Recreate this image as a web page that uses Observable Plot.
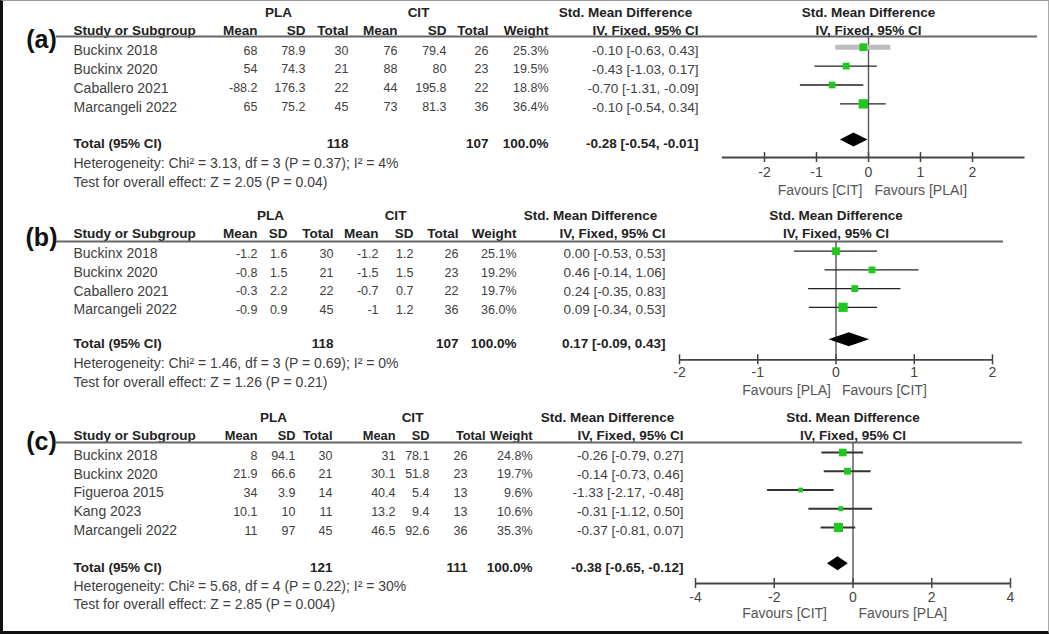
<!DOCTYPE html>
<html><head><meta charset="utf-8">
<script src="https://cdn.jsdelivr.net/npm/d3@7"></script>
<script src="https://cdn.jsdelivr.net/npm/@observablehq/plot@0.6"></script>
<style>
body{margin:0;background:#fff;}
#page{position:relative;width:1049px;height:634px;overflow:hidden;background:#fff;}
#page svg{position:absolute;left:0;}
#border{position:absolute;left:0;top:0;width:1049px;height:634px;box-sizing:border-box;border-left:3px solid #111;border-bottom:3px solid #111;border-top:1px solid #999;border-right:1px solid #aaa;pointer-events:none;z-index:5;}
</style></head><body><div id="page"><div id="border"></div></div>
<script>
// ---------- Panel (a) data ----------
const studiesA = ["Buckinx 2018", "Buckinx 2020", "Caballero 2021", "Marcangeli 2022"];
const plaMeanA = [68, 54, -88.2, 65];
const plaSdA = [78.9, 74.3, 176.3, 75.2];
const plaNA = [30, 21, 22, 45];
const citMeanA = [76, 88, 44, 73];
const citSdA = [79.4, 80, 195.8, 81.3];
const citNA = [26, 23, 22, 36];
const weightA = [25.3, 19.5, 18.8, 36.4];
const smdA = [-0.10, -0.43, -0.70, -0.10];
const loA = [-0.63, -1.03, -1.31, -0.54];
const hiA = [0.43, 0.17, -0.09, 0.34];
const totalsA = [118, 107, 100.0];
const totalSmdA = [-0.28, -0.54, -0.01];
const hetA = [3.13, 3, 0.37, 4];
const zTestA = [2.05, 0.04];
const ticksA = [-2, -1, 0, 1, 2];
const favoursA = ["Favours [CIT]", "Favours [PLAI]"];

// ---------- Panel (b) data ----------
const studiesB = ["Buckinx 2018", "Buckinx 2020", "Caballero 2021", "Marcangeli 2022"];
const plaMeanB = [-1.2, -0.8, -0.3, -0.9];
const plaSdB = [1.6, 1.5, 2.2, 0.9];
const plaNB = [30, 21, 22, 45];
const citMeanB = [-1.2, -1.5, -0.7, -1];
const citSdB = [1.2, 1.5, 0.7, 1.2];
const citNB = [26, 23, 22, 36];
const weightB = [25.1, 19.2, 19.7, 36.0];
const smdB = [0.00, 0.46, 0.24, 0.09];
const loB = [-0.53, -0.14, -0.35, -0.34];
const hiB = [0.53, 1.06, 0.83, 0.53];
const totalsB = [118, 107, 100.0];
const totalSmdB = [0.17, -0.09, 0.43];
const hetB = [1.46, 3, 0.69, 0];
const zTestB = [1.26, 0.21];
const ticksB = [-2, -1, 0, 1, 2];
const favoursB = ["Favours [PLA]", "Favours [CIT]"];

// ---------- Panel (c) data ----------
const studiesC = ["Buckinx 2018", "Buckinx 2020", "Figueroa 2015", "Kang 2023", "Marcangeli 2022"];
const plaMeanC = [8, 21.9, 34, 10.1, 11];
const plaSdC = [94.1, 66.6, 3.9, 10, 97];
const plaNC = [30, 21, 14, 11, 45];
const citMeanC = [31, 30.1, 40.4, 13.2, 46.5];
const citSdC = [78.1, 51.8, 5.4, 9.4, 92.6];
const citNC = [26, 23, 13, 13, 36];
const weightC = [24.8, 19.7, 9.6, 10.6, 35.3];
const smdC = [-0.26, -0.14, -1.33, -0.31, -0.37];
const loC = [-0.79, -0.73, -2.17, -1.12, -0.81];
const hiC = [0.27, 0.46, -0.48, 0.50, 0.07];
const totalsC = [121, 111, 100.0];
const totalSmdC = [-0.38, -0.65, -0.12];
const hetC = [5.68, 4, 0.22, 30];
const zTestC = [2.85, 0.004];
const ticksC = [-4, -2, 0, 2, 4];
const favoursC = ["Favours [CIT]", "Favours [PLA]"];

// ---------- layout (page pixels) ----------
const ML = 56;
const LAYOUT = {
  a: {top: 0, height: 200, label: "(a)", labelY: 39, groupY: 12, headY: 30, lineY: 36, lineEnd: 1037,
      row0: 50, step: 18.9, totalY: 143.5, hetY: 163, testY: 182,
      cols: {study: 73, plaMean: 257, plaSd: 305, plaN: 348, citMean: 397, citSd: 446, citN: 488, citNHead: 488, weight: 548, ci: 698},
      plaC: 278, citC: 418, smdC: 625, headFS: 13.5,
      xDomain: [-2, 2], xRange: [764, 972], axisExt: [-2.81, 3.01], axisY: 157, tickY: 172, favY: 190, favDx: [-6, 6],
      mDy: -3.3, dDy: -4, ciStroke: "#222", ciWidth: 1.4, greyRows: [0]},
  b: {top: 200, height: 200, label: "(b)", labelY: 237, groupY: 215, headY: 233.5, lineY: 241, lineEnd: 1003,
      row0: 253.3, step: 18.7, totalY: 343.3, hetY: 362.7, testY: 381.7,
      cols: {study: 73, plaMean: 257, plaSd: 287, plaN: 333, citMean: 378, citSd: 413, citN: 458, citNHead: 458, weight: 516, ci: 665},
      plaC: 270, citC: 395, smdC: 590, headFS: 13.5,
      xDomain: [-2, 2], xRange: [679, 992], axisExt: [-2, 2], axisY: 359.3, tickY: 372, favY: 390, favDx: [-5, 6],
      mDy: -2.6, dDy: -4, ciStroke: "#222", ciWidth: 1.2, greyRows: []},
  c: {top: 400, height: 234, label: "(c)", labelY: 441, groupY: 416.7, headY: 435, lineY: 442, lineEnd: 1022,
      row0: 455, step: 18.75, totalY: 566.7, hetY: 586, testY: 604,
      cols: {study: 73, plaMean: 257, plaSd: 295, plaN: 332, citMean: 395, citSd: 429, citN: 467, citNHead: 485, weight: 532, ci: 683},
      plaC: 273, citC: 412, smdC: 607, headFS: 12.8,
      xDomain: [-4, 4], xRange: [695, 1010], axisExt: [-4, 4], axisY: 583, tickY: 597, favY: 613, favDx: [-26, 5.5],
      mDy: -3, dDy: -3.5, ciStroke: "#333", ciWidth: 1.8, greyRows: []}
};

const FONT = "Liberation Sans, Arial, Helvetica, sans-serif";
const FS = 13.5;      // header / label text
const BODY_FS = 14;   // study names and footnotes
const NUM_FS = 12.5;  // numeric columns
const BODY = "#404040";
const BOLD = {fontWeight: "bold", fill: "#222"};

function buildPanel(key, d) {
  const L = LAYOUT[key];
  const g = v => v - L.top;
  const C = L.cols;
  const rows = d.studies.map((s, i) => ({
    i, study: s, plaMean: d.plaMean[i], plaSd: d.plaSd[i], plaN: d.plaN[i],
    citMean: d.citMean[i], citSd: d.citSd[i], citN: d.citN[i], weight: d.weight[i],
    smd: d.smd[i], lo: d.lo[i], hi: d.hi[i], y: g(L.row0 + i * L.step)
  }));
  const f2 = v => v.toFixed(2);
  const ciText = (m, lo, hi) => `${f2(m)} [${f2(lo)}, ${f2(hi)}]`;
  const col = (x, text, o = {}) => Plot.text(rows, {frameAnchor: "left", dx: x - ML, y: "y", text, textAnchor: "end", fontSize: NUM_FS, fill: BODY, ...o});
  const one = (str, x, y, o = {}) => Plot.text([str], {frameAnchor: "left", dx: x - ML, y: g(y), text: v => v, textAnchor: "end", fontSize: FS, fill: BODY, ...o});
  const HB = {...BOLD, fontSize: L.headFS};

  const [tm, tlo, thi] = d.totalSmd;
  const cy = g(L.totalY) + L.dDy;
  const diamond = [{x: tlo, h: 0}, {x: tm, h: 7}, {x: thi, h: 0}];
  const het = `Heterogeneity: Chi\u00B2 = ${d.het[0]}, df = ${d.het[1]} (P = ${d.het[2]}); I\u00B2 = ${d.het[3]}%`;
  const test = `Test for overall effect: Z = ${d.z[0]} (P = ${d.z[1]})`;
  const grey = rows.filter(r => L.greyRows.includes(r.i));
  const normal = rows.filter(r => !L.greyRows.includes(r.i));

  const marks = [
    one(L.label, 41, L.labelY, {textAnchor: "middle", fontSize: 25, fontWeight: "bold", fill: "#111"}),
    one("PLA", L.plaC, L.groupY, {textAnchor: "middle", ...BOLD}),
    one("CIT", L.citC, L.groupY, {textAnchor: "middle", ...BOLD}),
    one("Std. Mean Difference", L.smdC, L.groupY, {textAnchor: "middle", ...BOLD}),
    one("Study or Subgroup", C.study, L.headY, {textAnchor: "start", ...BOLD}),
    one("Mean", C.plaMean, L.headY, HB),
    one("SD", C.plaSd, L.headY, HB),
    one("Total", C.plaN, L.headY, HB),
    one("Mean", C.citMean, L.headY, HB),
    one("SD", C.citSd, L.headY, HB),
    one("Total", C.citNHead, L.headY, HB),
    one("Weight", C.weight, L.headY, HB),
    one("IV, Fixed, 95% CI", C.ci, L.headY, BOLD),
    Plot.ruleY([g(L.lineY)], {stroke: "#666", strokeWidth: 2}),
    col(C.study, "study", {textAnchor: "start", fontSize: BODY_FS}),
    col(C.plaMean, r => String(r.plaMean)),
    col(C.plaSd, r => String(r.plaSd)),
    col(C.plaN, r => String(r.plaN)),
    col(C.citMean, r => String(r.citMean)),
    col(C.citSd, r => String(r.citSd)),
    col(C.citN, r => String(r.citN)),
    col(C.weight, r => r.weight.toFixed(1) + "%"),
    col(C.ci, r => ciText(r.smd, r.lo, r.hi), {fontSize: FS}),
    one("Total (95% CI)", C.study, L.totalY, {textAnchor: "start", ...BOLD}),
    one(String(d.totals[0]), C.plaN, L.totalY, BOLD),
    one(String(d.totals[1]), C.citN, L.totalY, BOLD),
    one(d.totals[2].toFixed(1) + "%", C.weight, L.totalY, BOLD),
    one(ciText(tm, tlo, thi), C.ci, L.totalY, BOLD),
    one(het, C.study, L.hetY, {textAnchor: "start", fontSize: BODY_FS}),
    one(test, C.study, L.testY, {textAnchor: "start", fontSize: BODY_FS}),
    Plot.text(["Std. Mean Difference"], {x: 0, y: g(L.groupY), text: v => v, fontSize: FS, ...BOLD}),
    Plot.text(["IV, Fixed, 95% CI"], {x: 0, y: g(L.headY), text: v => v, fontSize: FS, ...BOLD}),
    Plot.ruleX([0], {y1: g(L.lineY), y2: g(L.axisY), stroke: "#555", strokeWidth: 1.4}),
    Plot.ruleY(grey, {x1: "lo", x2: "hi", y: r => r.y + L.mDy, stroke: "#bdbdbd", strokeWidth: 5}),
    Plot.ruleY(normal, {x1: "lo", x2: "hi", y: r => r.y + L.mDy, stroke: L.ciStroke, strokeWidth: L.ciWidth}),
    Plot.dot(rows, {x: "smd", y: r => r.y + L.mDy, r: "weight", symbol: "square", fill: "#1ec81e", stroke: null}),
    Plot.areaY(diamond, {x: "x", y1: p => cy - p.h, y2: p => cy + p.h, fill: "#000"}),
    Plot.ruleY([g(L.axisY)], {x1: L.axisExt[0], x2: L.axisExt[1], stroke: "#444", strokeWidth: 1.8}),
    Plot.ruleX(d.ticks, {y1: g(L.axisY) - 5, y2: g(L.axisY) + 5, stroke: "#444", strokeWidth: 1.5}),
    Plot.text(d.ticks, {x: v => v, y: g(L.tickY), text: v => String(v), fontSize: 14, fill: "#444"}),
    Plot.text([d.favours[0]], {x: 0, dx: L.favDx[0], y: g(L.favY), text: v => v, textAnchor: "end", fontSize: 14, fill: "#555"}),
    Plot.text([d.favours[1]], {x: 0, dx: L.favDx[1], y: g(L.favY), text: v => v, textAnchor: "start", fontSize: 14, fill: "#555"})
  ];

  const svg = Plot.plot({
    width: 1049, height: L.height,
    marginLeft: ML, marginRight: 1049 - L.lineEnd, marginTop: 0, marginBottom: 0,
    x: {domain: L.xDomain, range: L.xRange, axis: null},
    y: {type: "identity", axis: null},
    r: {type: "sqrt", domain: [0, 40], range: [0, 5.5]},
    style: {fontFamily: FONT, background: "transparent", overflow: "visible"},
    marks
  });
  svg.style.position = "absolute";
  svg.style.top = L.top + "px";
  svg.style.left = "0px";
  document.getElementById("page").appendChild(svg);
}

buildPanel("a", {studies: studiesA, plaMean: plaMeanA, plaSd: plaSdA, plaN: plaNA, citMean: citMeanA, citSd: citSdA, citN: citNA,
  weight: weightA, smd: smdA, lo: loA, hi: hiA, totals: totalsA, totalSmd: totalSmdA, het: hetA, z: zTestA, ticks: ticksA, favours: favoursA});
buildPanel("b", {studies: studiesB, plaMean: plaMeanB, plaSd: plaSdB, plaN: plaNB, citMean: citMeanB, citSd: citSdB, citN: citNB,
  weight: weightB, smd: smdB, lo: loB, hi: hiB, totals: totalsB, totalSmd: totalSmdB, het: hetB, z: zTestB, ticks: ticksB, favours: favoursB});
buildPanel("c", {studies: studiesC, plaMean: plaMeanC, plaSd: plaSdC, plaN: plaNC, citMean: citMeanC, citSd: citSdC, citN: citNC,
  weight: weightC, smd: smdC, lo: loC, hi: hiC, totals: totalsC, totalSmd: totalSmdC, het: hetC, z: zTestC, ticks: ticksC, favours: favoursC});
</script></body></html>
